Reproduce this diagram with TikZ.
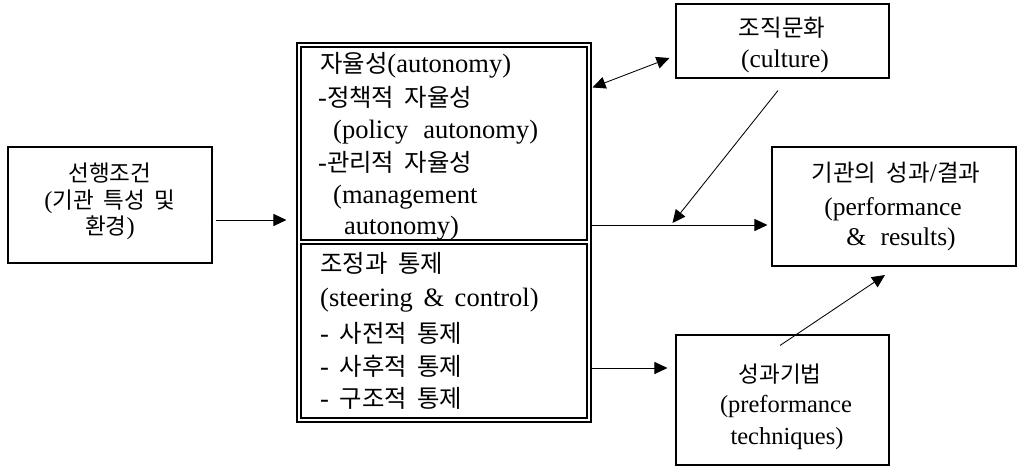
\documentclass[tikz,border=0pt]{standalone}
\usepackage{fontspec}
\setmainfont[WordSpace=1.6]{Liberation Serif}
\newfontfamily\krfont[Scale=0.92]{Noto Sans CJK KR}
\newcommand\K[1]{{\krfont #1}}
\usetikzlibrary{arrows.meta,calc}

\tikzset{
  box/.style={draw, line width=1.05pt, inner sep=0pt, rectangle},
  tip/.tip={Triangle[length=13pt,width=12pt]},
  arr/.style={-tip, line width=0.85pt},
  darr/.style={tip-tip, line width=0.85pt},
  lt/.style={anchor=base west, inner sep=0pt, font=\fontsize{26.5}{33}\selectfont},
  ct/.style={anchor=base, inner sep=0pt},
}

\begin{document}
\begin{tikzpicture}[x=1pt,y=-1pt]
\useasboundingbox (0,0) rectangle (1021,469);

% boxes
\node[box, minimum width=204pt, minimum height=116pt] (pre) at (110,205) {};
\node[box, minimum width=294pt, minimum height=379pt] (main) at (444,232.5) {};
\node[box, minimum width=286pt, minimum height=193pt] (auto) at (444,143.5) {};
\node[box, minimum width=286pt, minimum height=174pt] (steer) at (444,331) {};
\node[box, minimum width=213pt, minimum height=74pt] (cult) at (782.5,41) {};
\node[box, minimum width=244pt, minimum height=119pt] (perf) at (894,206.5) {};
\node[box, minimum width=213pt, minimum height=130pt] (tech) at (782.5,400) {};

% preconditions
\begin{scope}[every node/.style={ct, font=\fontsize{24.5}{26}\selectfont}]
\node (pre1) at (110,181.5) {\K{선행조건}};
\node (pre2) at (110,208.5) {(\K{기관} \K{특성} \K{및}};
\node (pre3) at (110,234) {\K{환경})};
\end{scope}

% autonomy
\node[lt] (a1) at (320,72)  {\K{자율성}(autonomy)};
\node[lt] (a2) at (318,106) {-\K{정책적} \K{자율성}};
\node[lt] (a3) at (333,138) {(policy\, autonomy)};
\node[lt] (a4) at (318,171) {-\K{관리적} \K{자율성}};
\node[lt] (a5) at (333,203) {(management};
\node[lt] (a6) at (344,234) {autonomy)};

% steering and control
\node[lt] (s1) at (320,272) {\K{조정과} \K{통제}};
\node[lt] (s2) at (320,306) {(steering \& control)};
\node[lt] (s3) at (320,342) {- \K{사전적} \K{통제}};
\node[lt] (s4) at (320,375) {- \K{사후적} \K{통제}};
\node[lt] (s5) at (320,407) {- \K{구조적} \K{통제}};

% culture
\begin{scope}[every node/.style={ct, font=\fontsize{25.5}{30}\selectfont}]
\node (c1) at (782,36) {\K{조직문화}};
\node (c2) at (785,67) {(culture)};
\end{scope}

% performance and results
\begin{scope}[every node/.style={ct, font=\fontsize{25.5}{32}\selectfont}]
\node (p1) at (896,181) {\K{기관의} \K{성과}/\K{결과}};
\node (p2) at (893,215) {(performance};
\node (p3) at (901,245) {\&\, results)};
\end{scope}

% performance techniques
\begin{scope}[every node/.style={ct, font=\fontsize{24.5}{31}\selectfont}]
\node (t1) at (780,382) {\K{성과기법}};
\node (t2) at (786,412) {(preformance};
\node (t3) at (787,444) {techniques)};
\end{scope}

% connectors
\draw[arr] ($(pre.east)+(3,15)$) -- ($(main.west)+(-10,-12.5)$);
\draw[darr] ($(main.north east)+(1,45)$) -- ($(cult.west)+(-6,17)$);
\draw[arr] ($(cult.south)+(-4.5,12)$) -- ($(perf.west)+(-99,16.5)$);
\draw[arr] ($(main.east)+(0,-7.5)$) -- ($(perf.west)+(-4,18.5)$);
\draw[arr] ($(main.east)+(0,135.5)$) -- ($(tech.west)+(-8,-32)$);
\draw[arr] ($(tech.north)+(-2.5,11)$) -- ($(perf.south)+(-9,8.5)$);
\end{tikzpicture}
\end{document}
